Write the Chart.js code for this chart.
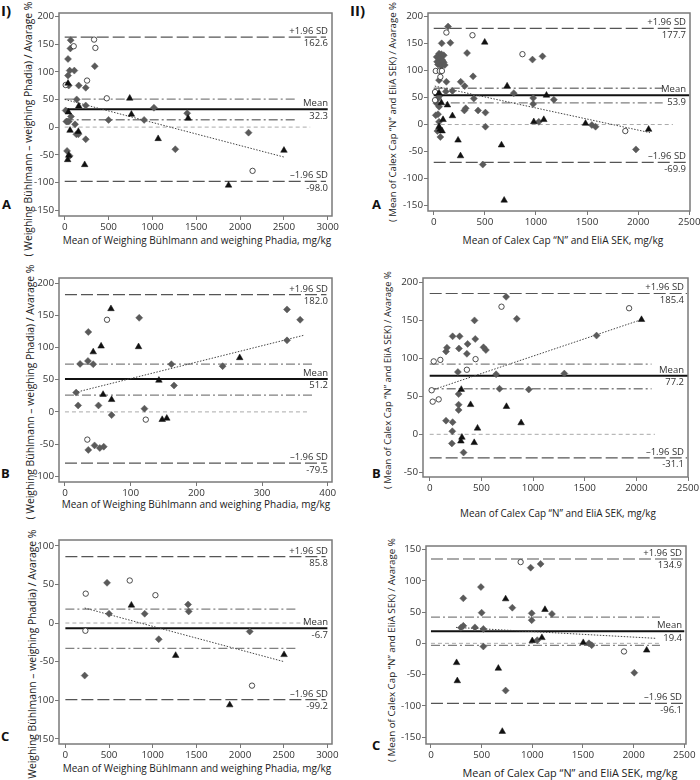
<!DOCTYPE html>
<html>
<head>
<meta charset="utf-8">
<script src="https://cdn.jsdelivr.net/npm/chart.js@4"></script>
<style>
  body { margin: 0; background: #fff; }
  #wrap { position: relative; width: 700px; height: 780px; overflow: hidden; font-family: "Open Sans", sans-serif; color: #222; }
  canvas { position: absolute; }
  .t { position: absolute; white-space: nowrap; transform: translate(-50%, -50%); line-height: 1; }
  .ty { transform: translate(-50%, -50%) rotate(-90deg); }
  .lab { position: absolute; font-weight: bold; line-height: 1; color: #111; }
</style>
</head>
<body>
<div id="wrap">
  <div class="lab" style="left:1px;top:3px;font-size:15px">I)</div>
  <div class="lab" style="left:350px;top:3px;font-size:15px">II)</div>
  <div class="lab" style="left:2px;top:198px;font-size:13px">A</div>
  <div class="lab" style="left:372px;top:198px;font-size:13px">A</div>
  <div class="lab" style="left:1px;top:467px;font-size:13px">B</div>
  <div class="lab" style="left:372px;top:467px;font-size:13px">B</div>
  <div class="lab" style="left:1px;top:730px;font-size:13px">C</div>
  <div class="lab" style="left:372px;top:739px;font-size:13px">C</div>

  <div class="t ty" data-w="255" style="left:28px;top:129px">( Weighing Bühlmann – weighing Phadia) / Avarage %</div>
  <div class="t ty" data-w="255" style="left:30px;top:392px">( Weighing Bühlmann – weighing Phadia) / Avarage %</div>
  <div class="t ty" data-w="255" style="left:32px;top:657px">( Weighing Bühlmann – weighing Phadia) / Avarage %</div>
  <div class="t ty" data-w="220" style="left:393px;top:112px">( Mean of Calex Cap “N” and EliA SEK) / Avarage %</div>
  <div class="t ty" data-w="218" style="left:388px;top:380px">( Mean of Calex Cap “N” and EliA SEK) / Avarage %</div>
  <div class="t ty" data-w="224" style="left:392px;top:650px">( Mean of Calex Cap “N” and EliA SEK) / Avarage %</div>

  <div class="t" data-w="269" style="left:197px;top:240px">Mean of Weighing Bühlmann and weighing Phadia, mg/kg</div>
  <div class="t" data-w="269" style="left:196px;top:504px">Mean of Weighing Bühlmann and weighing Phadia, mg/kg</div>
  <div class="t" data-w="269" style="left:197px;top:768px">Mean of Weighing Bühlmann and weighing Phadia, mg/kg</div>
  <div class="t" data-w="201" style="left:563px;top:240px">Mean of Calex Cap “N” and EliA SEK, mg/kg</div>
  <div class="t" data-w="196" style="left:558px;top:514px">Mean of Calex Cap “N” and EliA SEK, mg/kg</div>
  <div class="t" data-w="215" style="left:570px;top:773px">Mean of Calex Cap “N” and EliA SEK, mg/kg</div>
</div>

<script>
// tick labels
const ticksX3000 = [0, 500, 1000, 1500, 2000, 2500, 3000];
const ticksX2500 = [0, 500, 1000, 1500, 2000, 2500];
const ticksX400 = [0, 100, 200, 300, 400];
const ticksYa = [-150, -100, -50, 0, 50, 100, 150, 200];
const ticksYb1 = [-100, -50, 0, 50, 100, 150, 200];
const ticksYb2 = [-50, 0, 50, 100, 150, 200];
const ticksYc1 = [-150, -100, -50, 0, 50, 100];
const ticksYc2 = [-150, -100, -50, 0, 50, 100, 150];

// stats: [+1.96 SD, mean, upper CI, lower CI, -1.96 SD]
const statsIA = [162.6, 32.3, 50.5, 13.3, -98.0];
const statsIIA = [177.7, 53.9, 67, 40, -69.9];
const statsIB = [182.0, 51.2, 74, 26, -79.5];
const statsIIB = [185.4, 77.2, 92.4, 60, -31.1];
const statsIC = [85.8, -6.7, 18, -32.7, -99.2];
const statsIIC = [134.9, 19.4, 42, -3.2, -96.1];

// regression line end points [x, y]
const regIA = [[0, 50], [2500, -54]];
const regIIA = [[10, 71], [2115, -15]];
const regIB = [[15, 30], [364, 119]];
const regIIB = [[19, 58], [2050, 151]];
const regIC = [[221, 19.4], [2504, -50]];
const regIIC = [[247, 25.5], [2220, 8]];

// how far each reference line runs: [SD lines, mean, CI lines, zero]
const spanIA = [2980, 3000, 2640, 2800];
const spanIIA = [2480, 2500, 2240, 2340];
const spanIB = [398, 400, 378, 373];
const spanIIB = [2490, 2500, 2147, 2180];
const spanIC = [2980, 3000, 2637, 2800];
const spanIIC = [2500, 2500, 2260, 2260];

// points [mean, difference %]
const diamondsIA = [[68,157],[65,142],[38,123],[57,102],[110,102],[38,93],[46,75],[160,75],[240,71],[343,110],
  [137,50],[240,39],[11,30],[72,19],[19,10],[46,10],[30,10],[500,13],[1018,35],[906,13],[1397,25],[118,5],
  [133,-13],[156,-13],[240,-22],[1262,-40],[2097,-10],[27,-43],[57,-52]];
const circlesIA = [[103,146],[335,158],[350,143],[11,76],[255,84],[480,52],[2143,-79]];
const trianglesIA = [[38,79],[742,52],[160,38],[42,27],[761,23],[1408,16],[61,-6],[156,-8],[1066,-21],
  [2501,-42],[1869,-105],[46,-51],[34,-59],[228,-68]];

const diamondsIIA = [[140,181],[78,150],[163,151],[326,132],[966,120],[1064,126],[52,131],[75,130],[98,128],
  [29,125],[59,122],[85,119],[33,116],[65,113],[98,115],[42,111],[75,108],[108,110],[52,82],[124,79],[264,79],
  [385,89],[303,71],[118,61],[183,62],[783,58],[392,48],[973,49],[1175,46],[973,38],[52,52],[42,48],[29,39],
  [52,33],[313,30],[300,26],[434,26],[506,22],[20,17],[42,19],[52,5],[506,-4],[1028,5],[1547,-1],[1583,-4],
  [1978,-46],[36,-12],[65,-23],[480,-74]];
const circlesIIA = [[124,170],[379,165],[868,130],[20,99],[59,99],[80,99],[65,88],[13,60],[13,45],[1874,-12]];
const trianglesIIA = [[499,152],[718,71],[1103,54],[52,58],[75,40],[134,36],[183,16],[91,9],[979,5],[1077,9],
  [1485,2],[2102,-9],[52,-4],[62,-9],[82,-12],[238,-29],[262,-58],[663,-38],[689,-140]];

const diamondsIB = [[113,146],[35.5,124],[23,74.5],[35,79],[43,74],[162,74],[240,71],[338,159],[358,143],
  [338,111],[17,30],[20,10],[51,10],[71,-5],[166,41],[121,5],[35.5,-59],[45,-52],[53,-56],[59,-54]];
const circlesIB = [[64,143],[123,-12],[34,-43]];
const trianglesIB = [[70,160],[55,102],[43,93],[112,101],[266,84],[58,27],[71,19],[143,49],[148,-12],[155,-10]];

const diamondsIIB = [[740,181],[843,152],[434,150],[222,129],[290,129],[167,114],[158,109],[283,113],[367,119],
  [360,106],[441,125.5],[521,114.5],[544,111],[273,82],[643,79],[676,60],[280,53],[280,39],[280,32],[158,18],
  [222,16],[219,4],[215,-12],[328,-24],[1615,130],[1303,80],[959,59]];
const circlesIIB = [[695,168],[1930,166],[39,96],[103,98],[444,99],[360,85],[19,58],[29,43],[87,46]];
const trianglesIIB = [[2050,151],[306,59],[396,39],[743,36.5],[885,15],[463,8],[312,-4],[302,-9],[431,-11]];

const diamondsIC = [[477,52],[500,12],[908,12],[1405,24],[1412,15],[1069,-21],[2111,-11],[221,-68]];
const circlesIC = [[233,38],[737,55],[1031,36],[229,-10],[2137,-81]];
const trianglesIC = [[756,23],[1263,-42],[2504,-41],[1882,-106]];

const diamondsIIC = [[984,121],[1082,127],[493,90],[319,72],[803,57],[500,49],[994,48],[1194,47],[994,37],
  [319,28],[296,25],[434,25.5],[517,23],[517,-5],[1049,5],[1559,0],[1586,-3],[2007,-47],[737,-75.5]];
const circlesIIC = [[885,130],[1905,-13]];
const trianglesIIC = [[737,71],[1125,54],[1000,4],[1095,9],[1503,1],[2129,-11],[253,-31],[260,-60],[665,-40],[704,-141]];

// layout: canvas box and plot frame in page pixels, axis ranges
const panels = [
  { box: [0, 0, 350, 258], frame: [59, 13, 332, 216], xr: [-65, 3049], yr: [-160.5, 206], xt: ticksX3000, yt: ticksYa,
    stats: statsIA, reg: regIA, span: spanIA, d: diamondsIA, c: circlesIA, tr: trianglesIA },
  { box: [350, 0, 350, 258], frame: [428, 13, 690, 211], xr: [-56, 2507], yr: [-159.8, 206.1], xt: ticksX2500, yt: ticksYa,
    stats: statsIIA, reg: regIIA, span: spanIIA, d: diamondsIIA, c: circlesIIA, tr: trianglesIIA },
  { box: [0, 258, 350, 262], frame: [59, 278, 332, 482], xr: [-9.1, 406.5], yr: [-108.8, 207.8], xt: ticksX400, yt: ticksYb1,
    stats: statsIB, reg: regIB, span: spanIB, d: diamondsIB, c: circlesIB, tr: trianglesIB },
  { box: [350, 258, 350, 262], frame: [423, 278, 688, 477], xr: [-64.7, 2500], yr: [-56.2, 205.8], xt: ticksX2500, yt: ticksYb2,
    stats: statsIIB, reg: regIIB, span: spanIIB, d: diamondsIIB, c: circlesIIB, tr: trianglesIIB },
  { box: [0, 520, 350, 260], frame: [59, 540, 332, 744], xr: [-73, 3053], yr: [-156.5, 107.4], xt: ticksX3000, yt: ticksYc1,
    stats: statsIC, reg: regIC, span: spanIC, d: diamondsIC, c: circlesIC, tr: trianglesIC },
  { box: [350, 520, 350, 260], frame: [426, 546, 686, 744], xr: [-49, 2517], yr: [-161, 155.7], xt: ticksX2500, yt: ticksYc2,
    stats: statsIIC, reg: regIIC, span: spanIIC, d: diamondsIIC, c: circlesIIC, tr: trianglesIIC }
];

const toPts = arr => arr.map(p => ({ x: p[0], y: p[1] }));
const hLine = (v, end) => [{ x: 0, y: v }, { x: end, y: v }];

function lineDs(data, color, width, dash) {
  return { data, showLine: true, borderColor: color, borderWidth: width, borderDash: dash, pointRadius: 0, fill: false };
}

const frameAndLabels = {
  id: 'frameAndLabels',
  afterDraw(chart, args, opts) {
    const { ctx, chartArea: a } = chart;
    const y = chart.scales.y;
    ctx.save();
    ctx.strokeStyle = '#7a7a7a';
    ctx.lineWidth = 1.5;
    ctx.strokeRect(a.left, a.top, a.right - a.left, a.bottom - a.top);
    ctx.font = '9.5px "Open Sans"';
    ctx.fillStyle = '#333';
    ctx.textAlign = 'right';
    opts.items.forEach(it => {
      const py = y.getPixelForValue(it.v);
      ctx.textBaseline = 'bottom';
      ctx.fillText(it.top, a.right - 4, py - 1);
      ctx.textBaseline = 'top';
      ctx.fillText(it.bottom, a.right - 4, py + 2);
    });
    ctx.restore();
  }
};

const wrap = document.getElementById('wrap');

panels.forEach(p => {
  const [bx, by, bw, bh] = p.box;
  const [L, T, R, B] = p.frame;
  const cv = document.createElement('canvas');
  cv.width = bw; cv.height = bh;
  cv.style.left = bx + 'px'; cv.style.top = by + 'px';
  wrap.appendChild(cv);

  const [sdHi, mean, ciHi, ciLo, sdLo] = p.stats;
  const [sdEnd, meanEnd, ciEnd, zeroEnd] = p.span;

  const axisCommon = (ticks, fitFn) => ({
    type: 'linear',
    afterBuildTicks: s => { s.ticks = ticks.map(v => ({ value: v })); },
    afterFit: fitFn,
    grid: { drawOnChartArea: false, drawTicks: true, color: '#777', tickLength: 4 },
    border: { display: false },
    ticks: { color: '#333', font: { family: 'Open Sans', size: 9.8 }, padding: 1, callback: v => String(v) }
  });

  new Chart(cv, {
    type: 'scatter',
    data: {
      datasets: [
        { data: toPts(p.tr), pointStyle: 'triangle', radius: 3.8, backgroundColor: '#111', borderColor: '#111', borderWidth: 0.5 },
        { data: toPts(p.c), pointStyle: 'circle', radius: 2.7, backgroundColor: '#fff', borderColor: '#222', borderWidth: 0.8 },
        { data: toPts(p.d), pointStyle: 'rectRot', radius: 3.5, backgroundColor: '#5a5a5a', borderColor: '#5a5a5a', borderWidth: 0.5 },
        lineDs(toPts(p.reg), '#444', 1, [1.5, 1.5]),
        lineDs(hLine(mean, meanEnd), '#111', 2, []),
        lineDs(hLine(sdHi, sdEnd), '#555', 1.2, [12, 4]),
        lineDs(hLine(sdLo, sdEnd), '#555', 1.2, [12, 4]),
        lineDs(hLine(ciHi, ciEnd), '#808080', 1.3, [9, 3, 2, 3]),
        lineDs(hLine(ciLo, ciEnd), '#808080', 1.3, [9, 3, 2, 3]),
        lineDs(hLine(0, zeroEnd), '#aaa', 1, [4, 3])
      ]
    },
    options: {
      responsive: false,
      animation: false,
      events: [],
      layout: { padding: { left: 0, top: T - by, right: bx + bw - R, bottom: 0 } },
      scales: {
        x: Object.assign(axisCommon(p.xt, s => { s.height = by + bh - B; s.paddingLeft = 0; s.paddingRight = 0; }),
          { min: p.xr[0], max: p.xr[1], position: 'bottom' }),
        y: Object.assign(axisCommon(p.yt, s => { s.width = L - bx; s.paddingTop = 0; s.paddingBottom = 0; }),
          { min: p.yr[0], max: p.yr[1], position: 'left' })
      },
      plugins: {
        legend: { display: false },
        tooltip: { enabled: false },
        frameAndLabels: {
          items: [
            { v: sdHi, top: '+1.96 SD', bottom: sdHi.toFixed(1) },
            { v: mean, top: 'Mean', bottom: mean.toFixed(1) },
            { v: sdLo, top: '–1.96 SD', bottom: sdLo.toFixed(1) }
          ]
        }
      }
    },
    plugins: [frameAndLabels]
  });
});

// size the axis titles to the widths seen in the figure
const mctx = document.createElement('canvas').getContext('2d');
mctx.font = '10px "Open Sans"';
document.querySelectorAll('[data-w]').forEach(el => {
  const w = mctx.measureText(el.textContent).width;
  el.style.fontSize = (10 * el.dataset.w / w).toFixed(2) + 'px';
});
</script>
</body>
</html>
